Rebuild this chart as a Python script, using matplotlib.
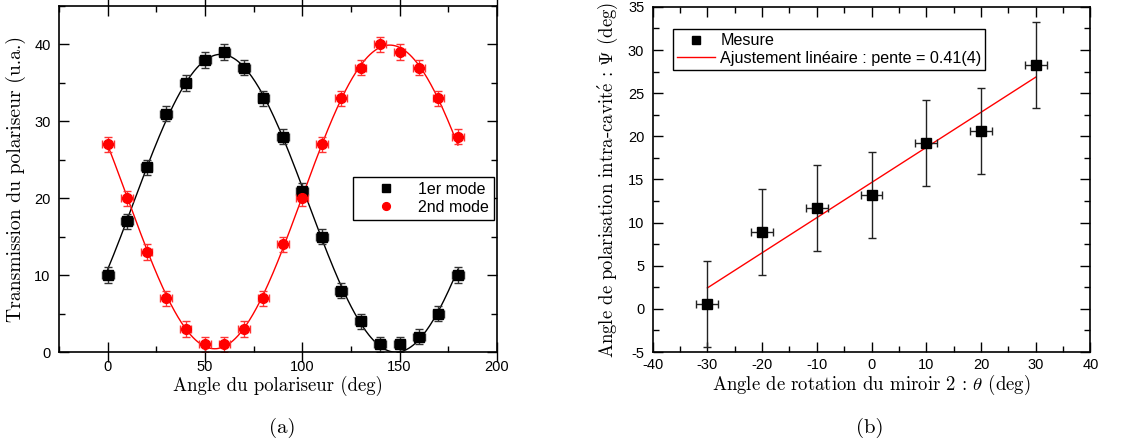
import matplotlib
matplotlib.use('Agg')
import matplotlib.pyplot as plt
import numpy as np
from matplotlib.ticker import MultipleLocator

plt.rcParams['font.family'] = ['Liberation Sans', 'DejaVu Sans']
plt.rcParams['axes.unicode_minus'] = False
plt.rcParams['mathtext.fontset'] = 'cm'

serif = ['cmr10', 'DejaVu Serif']

# (a) transmission du polariseur
angle_pol = [0, 10, 20, 30, 40, 50, 60, 70, 80, 90, 100, 110, 120, 130, 140, 150, 160, 170, 180]
mode1 = [10, 17, 24, 31, 35, 38, 39, 37, 33, 28, 21, 15, 8, 4, 1, 1, 2, 5, 10]
mode2 = [27, 20, 13, 7, 3, 1, 1, 3, 7, 14, 20, 27, 33, 37, 40, 39, 37, 33, 28]
err_angle_a = 3
err_trans = 1

# (b) angle de polarisation intra-cavite
angle_miroir = [-30, -20, -10, 0, 10, 20, 30]
psi = [0.6, 8.9, 11.7, 13.2, 19.2, 20.6, 28.3]
err_angle_b = 2
err_psi = 5


def malus_fit(x, y):
    # ajustement y = a + b cos(2x) + c sin(2x)
    t = np.radians(np.asarray(x, dtype=float))
    A = np.column_stack([np.ones_like(t), np.cos(2 * t), np.sin(2 * t)])
    coef, *_ = np.linalg.lstsq(A, np.asarray(y, dtype=float), rcond=None)
    xf = np.linspace(min(x), max(x), 300)
    tf = np.radians(xf)
    return xf, coef[0] + coef[1] * np.cos(2 * tf) + coef[2] * np.sin(2 * tf)


fig = plt.figure(figsize=(11.4, 4.47), dpi=100)
ax1 = fig.add_axes([0.0518, 0.2125, 0.384, 0.774])
ax2 = fig.add_axes([0.5725, 0.2125, 0.384, 0.772])

xf, yf = malus_fit(angle_pol, mode1)
ax1.plot(xf, yf, color='black', lw=1)
xf, yf = malus_fit(angle_pol, mode2)
ax1.plot(xf, yf, color='red', lw=1)
ax1.errorbar(angle_pol, mode1, xerr=err_angle_a, yerr=err_trans, fmt='s', color='black',
             ms=6.5, ecolor='#333333', elinewidth=1, capsize=3, capthick=1, label='1er mode')
ax1.errorbar(angle_pol, mode2, xerr=err_angle_a, yerr=err_trans, fmt='o', color='red',
             ms=7, ecolor='#ff3333', elinewidth=1, capsize=3, capthick=1, label='2nd mode')
ax1.set_xlim(-25, 200)
ax1.set_ylim(0, 45)
ax1.xaxis.set_major_locator(MultipleLocator(50))
ax1.xaxis.set_minor_locator(MultipleLocator(25))
ax1.yaxis.set_major_locator(MultipleLocator(10))
ax1.yaxis.set_minor_locator(MultipleLocator(5))
ax1.set_xlabel('Angle du polariseur (deg)', family=serif, fontsize=13.5, labelpad=1)
ax1.set_ylabel('Transmission du polariseur (u.a.)', family=serif, fontsize=14.2, labelpad=6)
h, l = ax1.get_legend_handles_labels()
leg1 = ax1.legend([x[0] for x in h], l, loc='upper right', bbox_to_anchor=(0.993, 0.506),
                  borderaxespad=0, fancybox=False, edgecolor='black', fontsize=11.5,
                  handlelength=3.6, handletextpad=0.2, borderpad=0.3, labelspacing=0.2,
                  framealpha=1, markerscale=0.8)
leg1.get_frame().set_linewidth(1)

xs = np.array(angle_miroir, dtype=float)
pente, origine = np.polyfit(xs, psi, 1)
ax2.plot(xs, pente * xs + origine, color='red', lw=1,
         label='Ajustement linéaire : pente = 0.41(4)')
ax2.errorbar(angle_miroir, psi, xerr=err_angle_b, yerr=err_psi, fmt='s', color='black',
             ms=6.5, ecolor='#222222', elinewidth=1, capsize=3, capthick=1, label='Mesure')
ax2.set_xlim(-40, 40)
ax2.set_ylim(-5, 35)
ax2.xaxis.set_major_locator(MultipleLocator(10))
ax2.xaxis.set_minor_locator(MultipleLocator(5))
ax2.yaxis.set_major_locator(MultipleLocator(5))
ax2.yaxis.set_minor_locator(MultipleLocator(2.5))
ax2.set_xlabel(r'Angle de rotation du miroir 2 : $\theta$ (deg)', family=serif, fontsize=13.5, labelpad=1)
ax2.set_ylabel(r'Angle de polarisation intra-cavit$\mathrm{\acute{e}}$ : $\Psi$ (deg)',
               family=serif, fontsize=13.5, labelpad=6)
h, l = ax2.get_legend_handles_labels()
h = [h[1][0], h[0]]
l = [l[1], l[0]]
leg2 = ax2.legend(h, l, loc='upper left', bbox_to_anchor=(0.0457, 0.935),
                  borderaxespad=0, fancybox=False, edgecolor='black', fontsize=11.6,
                  handlelength=2.4, handletextpad=0.3, borderpad=0.25, labelspacing=0.15,
                  framealpha=1, markerscale=0.8)
leg2.get_frame().set_linewidth(1)

for ax in (ax1, ax2):
    for s in ax.spines.values():
        s.set_linewidth(1.2)
    ax.tick_params(which='both', direction='in', top=True, right=True, labelsize=10.5, width=1)
    ax.tick_params(which='major', length=7)
    ax.tick_params(which='minor', length=4)
    ax.tick_params(axis='y', pad=6)
    ax.tick_params(axis='x', pad=4)
ax1.tick_params(axis='x', which='major', direction='inout', length=14, pad=-1)

fig.text(0.248, 0.042, '(a)', family=serif, fontsize=15, ha='center', va='center')
fig.text(0.763, 0.042, '(b)', family=serif, fontsize=15, ha='center', va='center')

fig.savefig('out.png', dpi=100)
